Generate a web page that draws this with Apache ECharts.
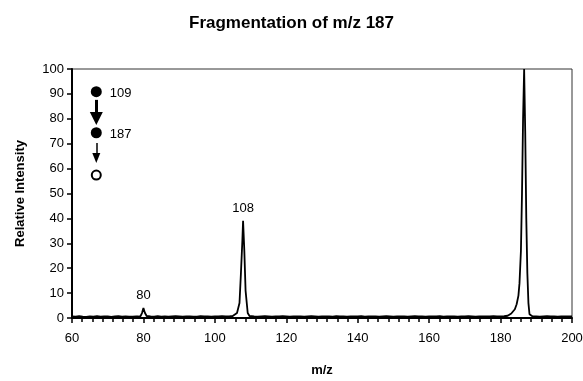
<!DOCTYPE html>
<html>
<head>
<meta charset="utf-8">
<script src="https://cdn.jsdelivr.net/npm/echarts@6/dist/echarts.min.js"></script>
<style>
  html, body { margin: 0; padding: 0; background: #fff; }
  #chart { width: 583px; height: 381px; }
</style>
</head>
<body>
<div id="chart"></div>
<script>
// spectrum: [m/z, relative intensity]
const spectrum = [
  [60,0.6],[61,0.5],[62,0.7],[63,0.5],[64,0.4],[65,0.6],[66,0.5],[67,0.7],[68,0.5],[69,0.6],
  [70,0.6],[71,0.4],[72,0.6],[73,0.7],[74,0.5],[75,0.6],[76,0.5],[77,0.5],[78,0.6],[78.6,0.6],
  [79.2,0.8],[79.6,2.0],[80,4.0],[80.4,2.1],[80.9,0.8],
  [81,0.6],[82,0.6],[83,0.5],[84,0.7],[85,0.5],[86,0.6],[87,0.5],[88,0.6],[89,0.7],[90,0.6],
  [91,0.5],[92,0.6],[93,0.6],[94,0.5],[95,0.5],[96,0.7],[97,0.6],[98,0.6],[99,0.5],[100,0.6],
  [101,0.6],[102,0.7],[103,0.6],[104,0.6],
  [105,0.8],[105.5,1.2],[106.2,2.0],[106.9,6],[107.3,18],[107.7,31],[107.9,39],[108.25,27],
  [108.6,11],[109.2,2.0],[109.7,0.8],
  [110,0.6],[111,0.6],[112,0.5],[113,0.6],[114,0.7],[115,0.6],[116,0.5],[117,0.6],[118,0.6],[119,0.7],
  [120,0.6],[121,0.5],[122,0.6],[123,0.6],[124,0.6],[125,0.5],[126,0.6],[127,0.7],[128,0.6],[129,0.5],
  [130,0.6],[131,0.6],[132,0.6],[133,0.5],[134,0.7],[135,0.6],[136,0.6],[137,0.5],[138,0.6],[139,0.6],
  [140,0.6],[141,0.7],[142,0.5],[143,0.6],[144,0.6],[145,0.6],[146,0.5],[147,0.6],[148,0.7],[149,0.6],
  [150,0.5],[151,0.6],[152,0.6],[153,0.6],[154,0.5],[155,0.6],[156,0.7],[157,0.6],[158,0.6],[159,0.5],
  [160,0.6],[161,0.6],[162,0.6],[163,0.7],[164,0.5],[165,0.6],[166,0.6],[167,0.6],[168,0.5],[169,0.6],
  [170,0.6],[171,0.7],[172,0.6],[173,0.5],[174,0.6],[175,0.6],[176,0.6],[177,0.6],[178,0.7],[179,0.6],
  [180,0.6],[181,0.7],
  [182,0.9],[182.5,1.3],[183,1.8],[183.5,2.5],[184,3.5],[184.5,5.5],[185,9],[185.3,14],[185.7,27],
  [186,50],[186.3,80],[186.6,100],[186.9,75],[187.2,40],[187.5,18],[187.8,6],[188.1,1.5],[188.5,0.7],
  [189,0.6],[190,0.6],[191,0.5],[192,0.6],[193,0.7],[194,0.6],[195,0.6],[196,0.5],[197,0.6],[198,0.6],
  [199,0.6],[200,0.6]
];

const peakMz = [80, 107.9];
const peakHeight = [4.0, 39];
const peakLabels = ['80', '108'];

// fragmentation scheme drawn inside the plot (data coordinates)
const schemeX = [66.8, 66.8, 66.8];
const schemeY = [90.9, 74.4, 57.4];
const schemeSymbols = ['circle', 'circle', 'emptyCircle'];
const schemeLabels = ['109', '187', ''];
const arrowFrom = [[66.8, 87.6], [66.8, 70.3]];
const arrowTo = [[66.8, 80.1], [66.8, 64.3]];

const font = 'Liberation Sans, Arial, sans-serif';
let myChart = echarts.init(document.getElementById('chart'));

let option = {
  animation: false,
  backgroundColor: '#fff',
  title: {
    text: 'Fragmentation of m/z 187',
    left: 'center',
    top: 10,
    textStyle: { fontFamily: font, fontSize: 17, fontWeight: 'bold', color: '#000' }
  },
  grid: {
    left: 72, right: 11, top: 69, bottom: 63,
    outerBoundsMode: 'none',
    containLabel: false,
    show: true, borderColor: '#333', borderWidth: 1
  },
  xAxis: {
    type: 'value',
    min: 60, max: 200, interval: 20,
    name: 'm/z',
    nameLocation: 'middle',
    nameGap: 46,
    nameTextStyle: { fontFamily: font, fontSize: 13, fontWeight: 'bold', color: '#000' },
    axisLine: { lineStyle: { color: '#000', width: 2 } },
    axisTick: { length: 5, lineStyle: { color: '#000', width: 1.5 } },
    minorTick: { show: true, splitNumber: 7, length: 4, lineStyle: { color: '#000', width: 1.5 } },
    splitLine: { show: false },
    axisLabel: { fontFamily: font, fontSize: 13, color: '#000', margin: 14 }
  },
  yAxis: {
    type: 'value',
    min: 0, max: 100, interval: 10,
    name: 'Relative Intensity',
    nameLocation: 'middle',
    nameGap: 45,
    nameTextStyle: { fontFamily: font, fontSize: 13, fontWeight: 'bold', color: '#000' },
    axisLine: { show: true, lineStyle: { color: '#000', width: 2 } },
    axisTick: { show: true, length: 5, lineStyle: { color: '#000', width: 1.5 } },
    splitLine: { show: false },
    axisLabel: { fontFamily: font, fontSize: 13, color: '#000', margin: 8 }
  },
  series: [
    {
      name: 'spectrum',
      type: 'line',
      data: spectrum,
      showSymbol: false,
      symbol: 'none',
      lineStyle: { color: '#000', width: 1.8 },
      silent: true
    },
    {
      name: 'peaks',
      type: 'scatter',
      symbolSize: 0,
      itemStyle: { color: '#000', opacity: 1 },
      data: peakMz.map((x, i) => [x, peakHeight[i]]),
      label: {
        show: true,
        position: 'top',
        distance: 6,
        opacity: 1,
        fontFamily: font, fontSize: 13, color: '#000',
        formatter: (p) => peakLabels[p.dataIndex]
      },
      silent: true
    },
    {
      name: 'scheme',
      type: 'scatter',
      data: schemeX.map((x, i) => ({
        value: [x, schemeY[i]],
        symbol: schemeSymbols[i],
        symbolSize: schemeSymbols[i] === 'emptyCircle' ? 9 : 11,
        itemStyle: schemeSymbols[i] === 'emptyCircle'
          ? { color: '#000', borderColor: '#000', borderWidth: 2, opacity: 1 }
          : { color: '#000', opacity: 1 }
      })),
      label: {
        show: true,
        position: 'right',
        distance: 8,
        offset: [0, 2],
        fontFamily: font, fontSize: 13, color: '#000',
        formatter: (p) => schemeLabels[p.dataIndex]
      },
      markLine: {
        silent: true,
        animation: false,
        label: { show: false },
        data: arrowFrom.map((from, i) => [
          { coord: from, symbol: 'none' },
          {
            coord: arrowTo[i],
            symbol: 'triangle',
            symbolSize: i === 0 ? [13, 13] : [8, 10],
            itemStyle: { color: '#000' },
            lineStyle: { color: '#000', type: 'solid', width: i === 0 ? 3 : 1.5 }
          }
        ]),
        itemStyle: { color: '#000' },
        lineStyle: { color: '#000', type: 'solid' }
      },
      silent: true
    }
  ]
};
myChart.setOption(option);
</script>
</body>
</html>
